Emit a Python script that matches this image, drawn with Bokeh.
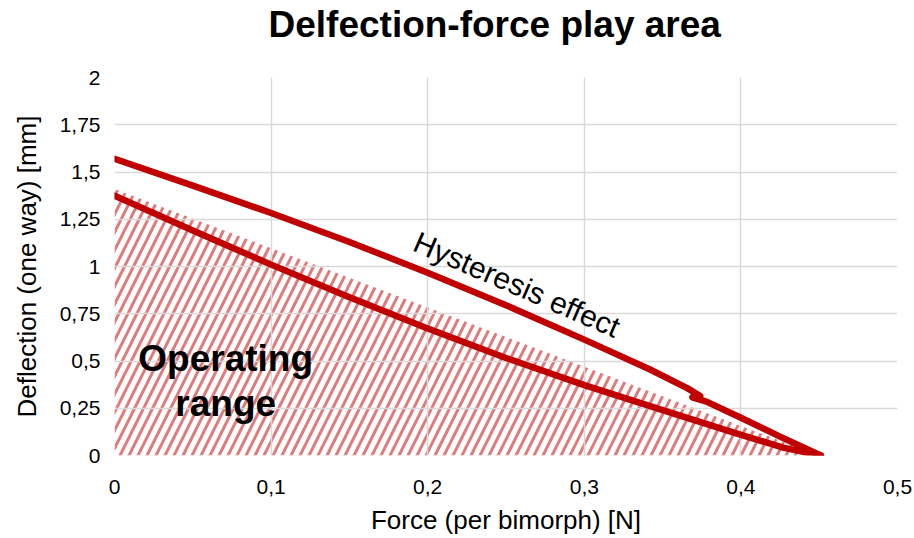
from bokeh.plotting import figure
from bokeh.models import FixedTicker, Range1d, Title
from bokeh.core.properties import value
from bokeh.embed import file_html
from bokeh.resources import INLINE

# ---- data ----
chart_title = "Delfection-force play area"

upper_force = [0.0, 0.05, 0.10, 0.15, 0.20, 0.25, 0.30, 0.342, 0.366, 0.374, 0.369, 0.378, 0.40, 0.425, 0.451]
upper_defl = [1.57, 1.428, 1.283, 1.13, 0.967, 0.795, 0.613, 0.455, 0.355, 0.315, 0.308, 0.285, 0.20, 0.10, 0.0]

lower_force = [0.0, 0.05, 0.10, 0.15, 0.20, 0.25, 0.30, 0.349, 0.395, 0.427, 0.451]
lower_defl = [1.375, 1.19, 1.01, 0.837, 0.672, 0.516, 0.372, 0.243, 0.122, 0.042, 0.0]

area_force = [0.0, 0.0, 0.45]
area_defl = [0.0, 1.41, 0.0]

x_ticks = [0.0, 0.1, 0.2, 0.3, 0.4, 0.5]
x_tick_labels = ["0", "0,1", "0,2", "0,3", "0,4", "0,5"]
y_ticks = [0.0, 0.25, 0.5, 0.75, 1.0, 1.25, 1.5, 1.75, 2.0]
y_tick_labels = ["0", "0,25", "0,5", "0,75", "1", "1,25", "1,5", "1,75", "2"]

note_force = [0.071, 0.071]
note_defl = [0.513, 0.275]
note_text = ["Operating", "range"]

hyst_force = [0.257]
hyst_defl = [0.905]
hyst_text = ["Hysteresis effect"]

FONT = "Liberation Sans"
LINE = "#C00000"
GRID = "#D9D9D9"

p = figure(width=912, height=538, output_backend="svg", toolbar_location=None,
           x_range=Range1d(0, 0.5), y_range=Range1d(0, 2), title=chart_title)
p.min_border_left = 114
p.min_border_right = 15
p.min_border_top = 77
p.min_border_bottom = 83
p.outline_line_color = None
p.background_fill_color = "white"
p.border_fill_color = "white"

p.title.text_font = FONT
p.title.text_font_size = "37px"
p.title.text_font_style = "bold"
p.title.text_color = "black"
p.title.align = "left"
p.title.offset = 154
p.title.vertical_align = "bottom"
p.title.standoff = 0

# blank spacer between the title and the plot frame
p.add_layout(Title(text=" ", text_font_size="10px", standoff=20), "above")

p.xaxis.ticker = FixedTicker(ticks=x_ticks)
p.yaxis.ticker = FixedTicker(ticks=y_ticks)
p.xaxis.major_label_overrides = {t: l for t, l in zip(x_ticks, x_tick_labels)}
p.yaxis.major_label_overrides = {t: l for t, l in zip(y_ticks, y_tick_labels)}
p.xaxis.axis_label = "Force (per bimorph) [N]"
p.yaxis.axis_label = "Deflection (one way) [mm]"
for ax in (p.xaxis, p.yaxis):
    ax.axis_line_color = None
    ax.major_tick_line_color = None
    ax.minor_tick_line_color = None
    ax.major_tick_out = 0
    ax.major_tick_in = 0
    ax.major_label_text_font = FONT
    ax.major_label_text_font_size = "21px"
    ax.major_label_text_color = "#000000"
    ax.axis_label_text_font = FONT
    ax.axis_label_text_font_size = "26px"
    ax.axis_label_text_font_style = "normal"
    ax.axis_label_text_color = "#000000"
p.xaxis.major_label_standoff = 24
p.xaxis.axis_label_standoff = 8
p.yaxis.major_label_standoff = 14
p.yaxis.axis_label_standoff = 15

p.xgrid.ticker = FixedTicker(ticks=x_ticks)
p.ygrid.ticker = FixedTicker(ticks=y_ticks)
p.grid.grid_line_color = GRID
p.grid.grid_line_width = 1.5

hatch = p.patch(area_force, area_defl, fill_color=None, line_color=None,
                hatch_pattern="/", hatch_color="#E07B7B", hatch_scale=18, hatch_weight=3)
hatch.level = "image"

p.line(upper_force, upper_defl, line_color=LINE, line_width=6.5, line_join="round", line_cap="round")
p.line(lower_force, lower_defl, line_color=LINE, line_width=6.5, line_join="round", line_cap="round")

p.text(note_force, note_defl, text=note_text, text_font=value(FONT), text_font_size="37px",
       text_font_style="bold", text_align="center", text_baseline="middle", text_color="black")
p.text(hyst_force, hyst_defl, text=hyst_text, text_font=value(FONT), text_font_size="30px",
       text_align="center", text_baseline="middle", text_color="black", angle=-0.41)

open("out.html", "w").write(file_html(p, INLINE))
